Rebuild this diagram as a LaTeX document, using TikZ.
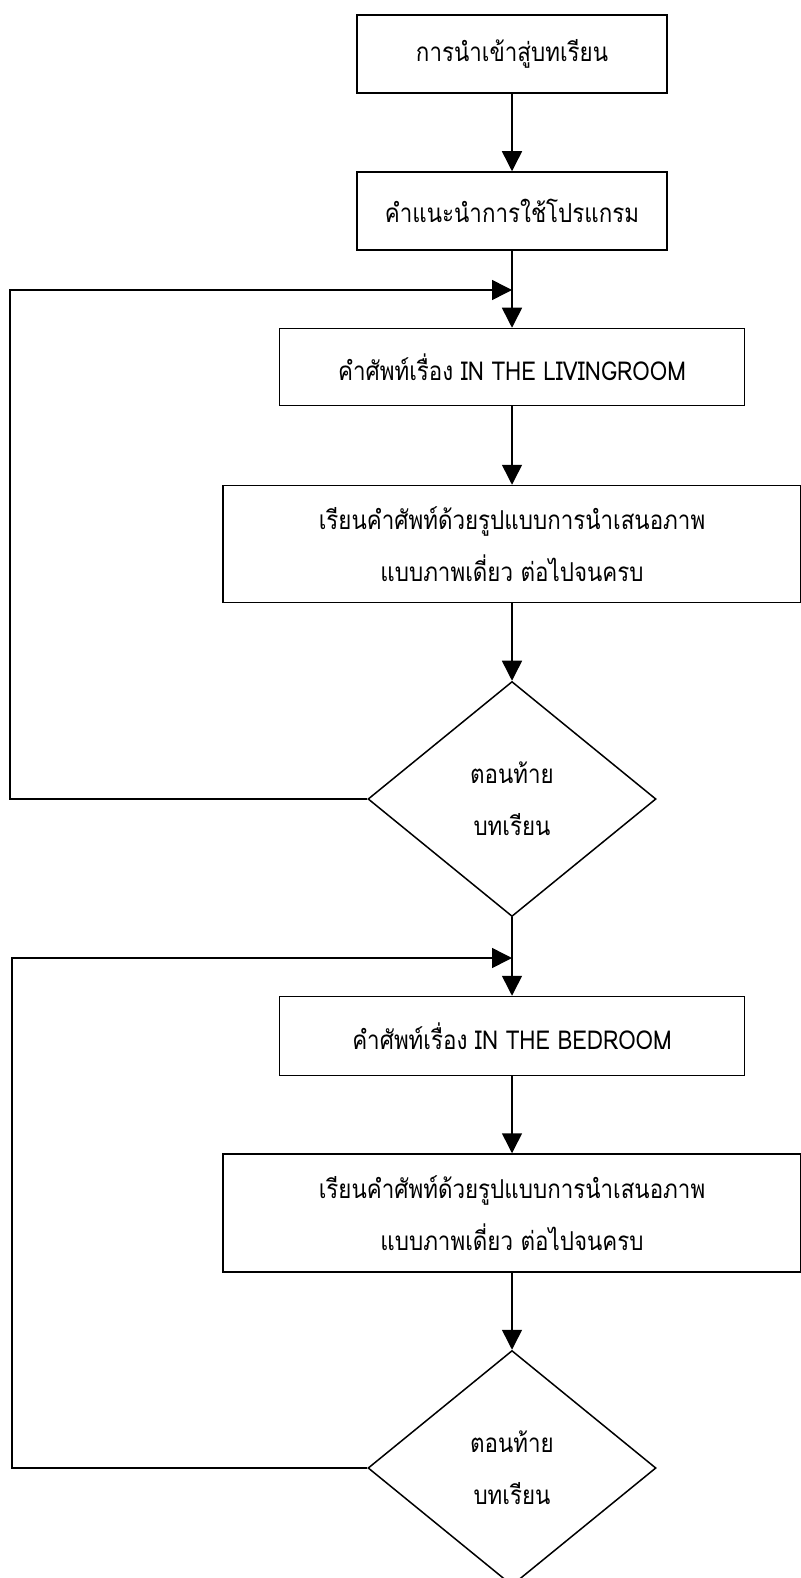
\documentclass[tikz,border=0pt]{standalone}
\usepackage{fontspec}
\newfontfamily\thaifont[Script=Thai,FakeStretch=0.86]{Loma}
\usetikzlibrary{shapes.geometric,arrows.meta}

\begin{document}
\begin{tikzpicture}[x=1pt,y=-1pt,
    txt/.style={font=\thaifont\fontsize{26pt}{52pt}\selectfont},
    box/.style={txt, draw, line width=1.5pt, inner sep=0pt, align=center,
      minimum width=310pt, minimum height=78pt},
    check/.style={txt, draw, diamond, line width=1.5pt, inner sep=0pt, align=center,
      minimum width=288pt, minimum height=235pt},
    arr/.style={line width=1.5pt, -{Triangle[width=20pt,length=20pt]}}]
  \fill[white] (0,0) rectangle (800,1578);
  \useasboundingbox (0,0) rectangle (800,1578);

  % intro and instructions
  \node[box] (intro) at (512,54) {การนำเข้าสู่บทเรียน};
  \node[box] (guide) at (512,211) {คำแนะนำการใช้โปรแกรม};

  % lesson 1
  \node[box, minimum width=465pt, minimum height=77pt] (vocabA) at (512,367) {คำศัพท์เรื่อง IN THE LIVINGROOM};
  \node[box, minimum width=578pt, minimum height=117pt] (learnA) at (512,544)
    {เรียนคำศัพท์ด้วยรูปแบบการนำเสนอภาพ\\แบบภาพเดี่ยว ต่อไปจนครบ};
  \node[check] (endA) at (512,799) {ตอนท้าย\\บทเรียน};

  % lesson 2
  \node[box, minimum width=465pt, minimum height=79pt] (vocabB) at (512,1036) {คำศัพท์เรื่อง IN THE BEDROOM};
  \node[box, minimum width=578pt, minimum height=118pt] (learnB) at (512,1213)
    {เรียนคำศัพท์ด้วยรูปแบบการนำเสนอภาพ\\แบบภาพเดี่ยว ต่อไปจนครบ};
  \node[check] (endB) at (512,1468) {ตอนท้าย\\บทเรียน};

  % loop corners and joins
  \coordinate (cornerA) at (10,290);
  \coordinate (joinA) at (512,290);
  \coordinate (cornerB) at (12,958);
  \coordinate (joinB) at (512,958);

  \draw[arr] (intro) -- (guide);
  \draw[arr] (guide) -- (vocabA);
  \draw[arr] (vocabA) -- (learnA);
  \draw[arr] (learnA) -- (endA);
  \draw[arr] (endA) -- (vocabB);
  \draw[arr] (vocabB) -- (learnB);
  \draw[arr] (learnB) -- (endB);

  \draw[arr] (endA.west) -| (cornerA) -- (joinA);
  \draw[arr] (endB.west) -| (cornerB) -- (joinB);
\end{tikzpicture}
\end{document}
